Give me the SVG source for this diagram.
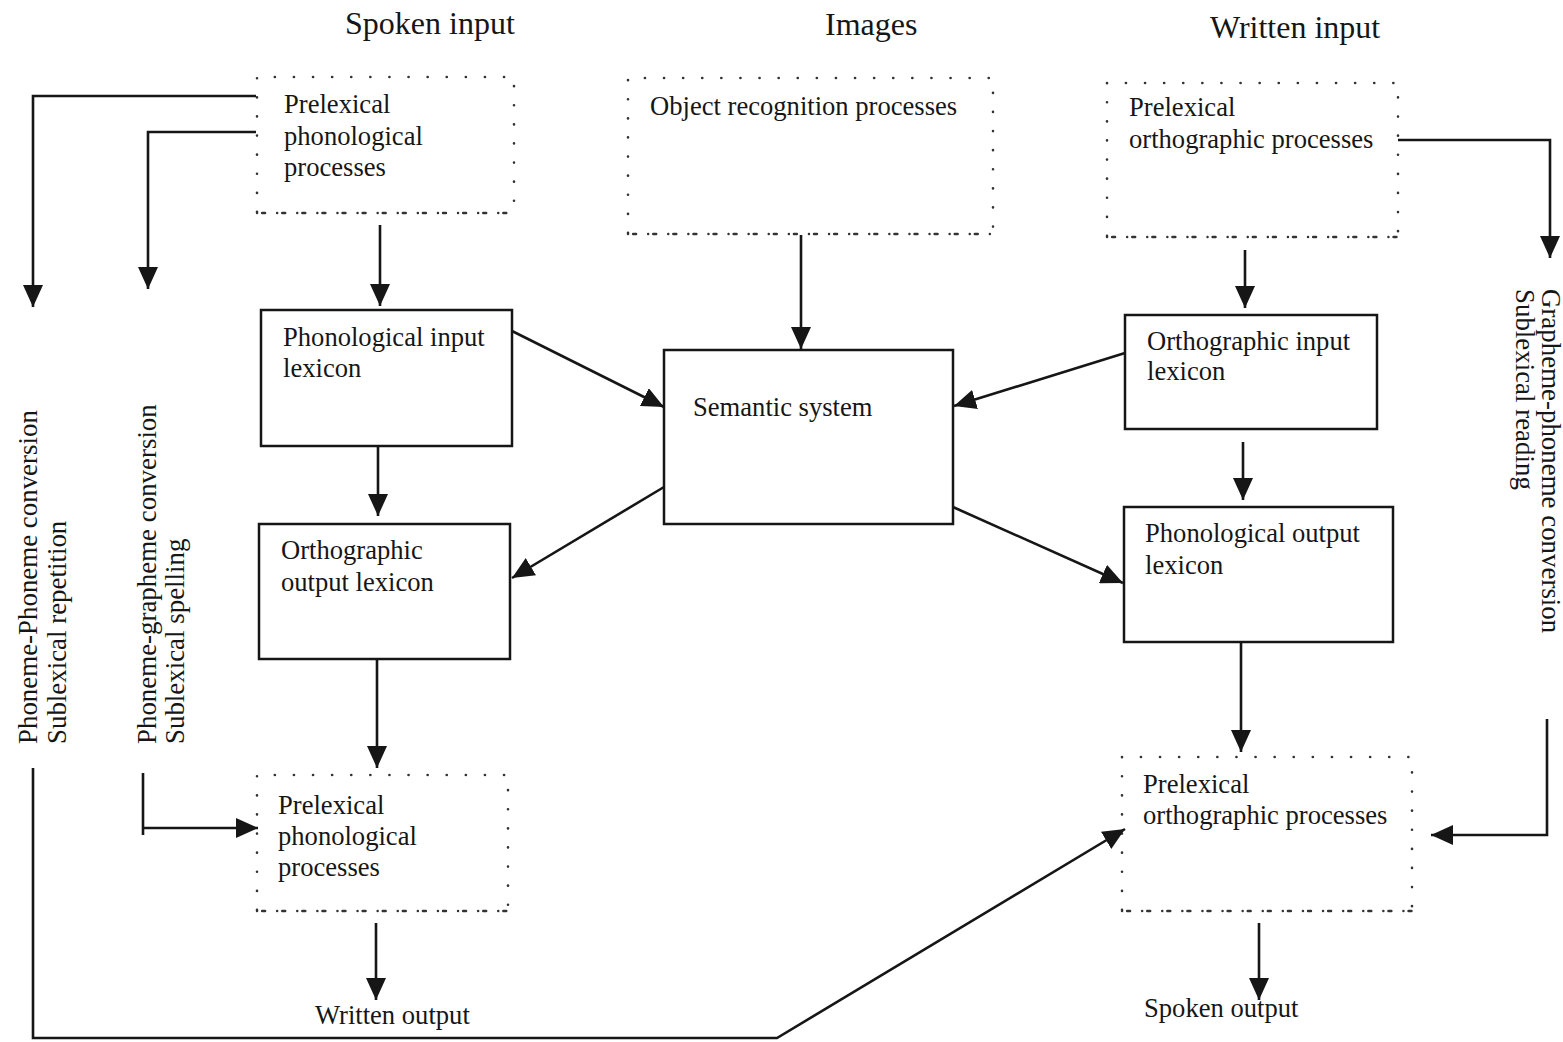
<svg xmlns="http://www.w3.org/2000/svg" width="1563" height="1042" viewBox="0 0 1563 1042">
<style>
text{font-family:"Liberation Serif","Times New Roman",serif;fill:#161616;font-size:26.6px}
.title{font-size:32px}
.vt{font-size:26.9px}
.box{fill:none;stroke:#161616;stroke-width:2.5}
.dot{fill:none;stroke:#333;stroke-width:2.6;stroke-dasharray:0.1 19;stroke-linecap:round}
.dotb{fill:none;stroke:#333;stroke-width:2.4;stroke-dasharray:0.1 5 3 12;stroke-linecap:round}
.ln{fill:none;stroke:#161616;stroke-width:2.6}
.ar{fill:none;stroke:#161616;stroke-width:2.6;marker-end:url(#ah)}
</style>
<defs>
<marker id="ah" viewBox="0 0 22 20" refX="22" refY="10" markerWidth="22" markerHeight="20" markerUnits="userSpaceOnUse" orient="auto">
<path d="M0,0 L22,10 L0,20 z" fill="#161616"/>
</marker>
</defs>
<rect width="1563" height="1042" fill="#fff"/>

<g id="titles">
<text class="title" x="345" y="34">Spoken input</text>
<text class="title" x="825" y="35">Images</text>
<text class="title" x="1210" y="38">Written input</text>
</g>

<g id="prelex-phon-in">
<path class="dot" d="M257,212 V77 H514 V212"/>
<path class="dotb" d="M257,213 H514"/>
<text x="284" y="113">Prelexical</text>
<text x="284" y="145">phonological</text>
<text x="284" y="176">processes</text>
</g>

<g id="object-recognition">
<path class="dot" d="M628,233 V78 H993 V233"/>
<path class="dotb" d="M628,234 H993"/>
<text x="650" y="115">Object recognition processes</text>
</g>

<g id="prelex-orth-in">
<path class="dot" d="M1107,236 V83 H1398 V236"/>
<path class="dotb" d="M1107,237 H1398"/>
<text x="1129" y="116">Prelexical</text>
<text x="1129" y="148">orthographic processes</text>
</g>

<g id="phon-input-lexicon">
<rect class="box" x="261" y="310" width="251" height="136"/>
<text x="283" y="346">Phonological input</text>
<text x="283" y="377">lexicon</text>
</g>

<g id="semantic-system">
<rect class="box" x="664" y="350" width="289" height="174"/>
<text x="693" y="416">Semantic system</text>
</g>

<g id="orth-input-lexicon">
<rect class="box" x="1125" y="315" width="252" height="114"/>
<text x="1147" y="350">Orthographic input</text>
<text x="1147" y="380">lexicon</text>
</g>

<g id="orth-output-lexicon">
<rect class="box" x="259" y="524" width="251" height="135"/>
<text x="281" y="559">Orthographic</text>
<text x="281" y="591">output lexicon</text>
</g>

<g id="phon-output-lexicon">
<rect class="box" x="1124" y="507" width="269" height="135"/>
<text x="1145" y="542">Phonological output</text>
<text x="1145" y="574">lexicon</text>
</g>

<g id="prelex-phon-out">
<path class="dot" d="M257,910 V775 H508 V910"/>
<path class="dotb" d="M257,911 H508"/>
<text x="278" y="814">Prelexical</text>
<text x="278" y="845">phonological</text>
<text x="278" y="876">processes</text>
</g>

<g id="prelex-orth-out">
<path class="dot" d="M1122,910 V757 H1412 V910"/>
<path class="dotb" d="M1122,911 H1412"/>
<text x="1143" y="793">Prelexical</text>
<text x="1143" y="824">orthographic processes</text>
</g>

<g id="written-output">
<text x="315" y="1024">Written output</text>
</g>

<g id="spoken-output">
<text x="1144" y="1017">Spoken output</text>
</g>

<g id="route-labels">
<text class="vt" transform="translate(37,744) rotate(-90)">Phoneme-Phoneme conversion</text>
<text class="vt" transform="translate(66,744) rotate(-90)">Sublexical repetition</text>
<text class="vt" transform="translate(156,744) rotate(-90)">Phoneme-grapheme conversion</text>
<text class="vt" transform="translate(184,744) rotate(-90)">Sublexical spelling</text>
<text class="vt" transform="translate(1542,289) rotate(90)">Grapheme-phoneme conversion</text>
<text class="vt" transform="translate(1516,289) rotate(90)">Sublexical reading</text>
</g>

<g id="connectors">
<path class="ar" d="M256,96 H33 V307"/>
<path class="ar" d="M256,132 H148 V289"/>
<path class="ar" d="M380,225 V306"/>
<path class="ar" d="M801,235 V349"/>
<path class="ar" d="M1245,250 V308"/>
<path class="ar" d="M1398,140 H1550 V258"/>
<path class="ar" d="M512,331 L664,407"/>
<path class="ar" d="M1125,353 L954,406"/>
<path class="ar" d="M664,487 L512,578"/>
<path class="ar" d="M953,507 L1123,583"/>
<path class="ar" d="M378,446 V516"/>
<path class="ar" d="M1243,442 V500"/>
<path class="ar" d="M377,660 V768"/>
<path class="ar" d="M1241,642 V752"/>
<path class="ar" d="M376,923 V1000"/>
<path class="ar" d="M1259,923 V1000"/>
<path class="ln" d="M143,773 V835"/>
<path class="ar" d="M143,828 H258"/>
<path class="ar" d="M33,768 V1038 H777 L1125,829"/>
<path class="ar" d="M1547,719 V835 H1431"/>
</g>
</svg>
